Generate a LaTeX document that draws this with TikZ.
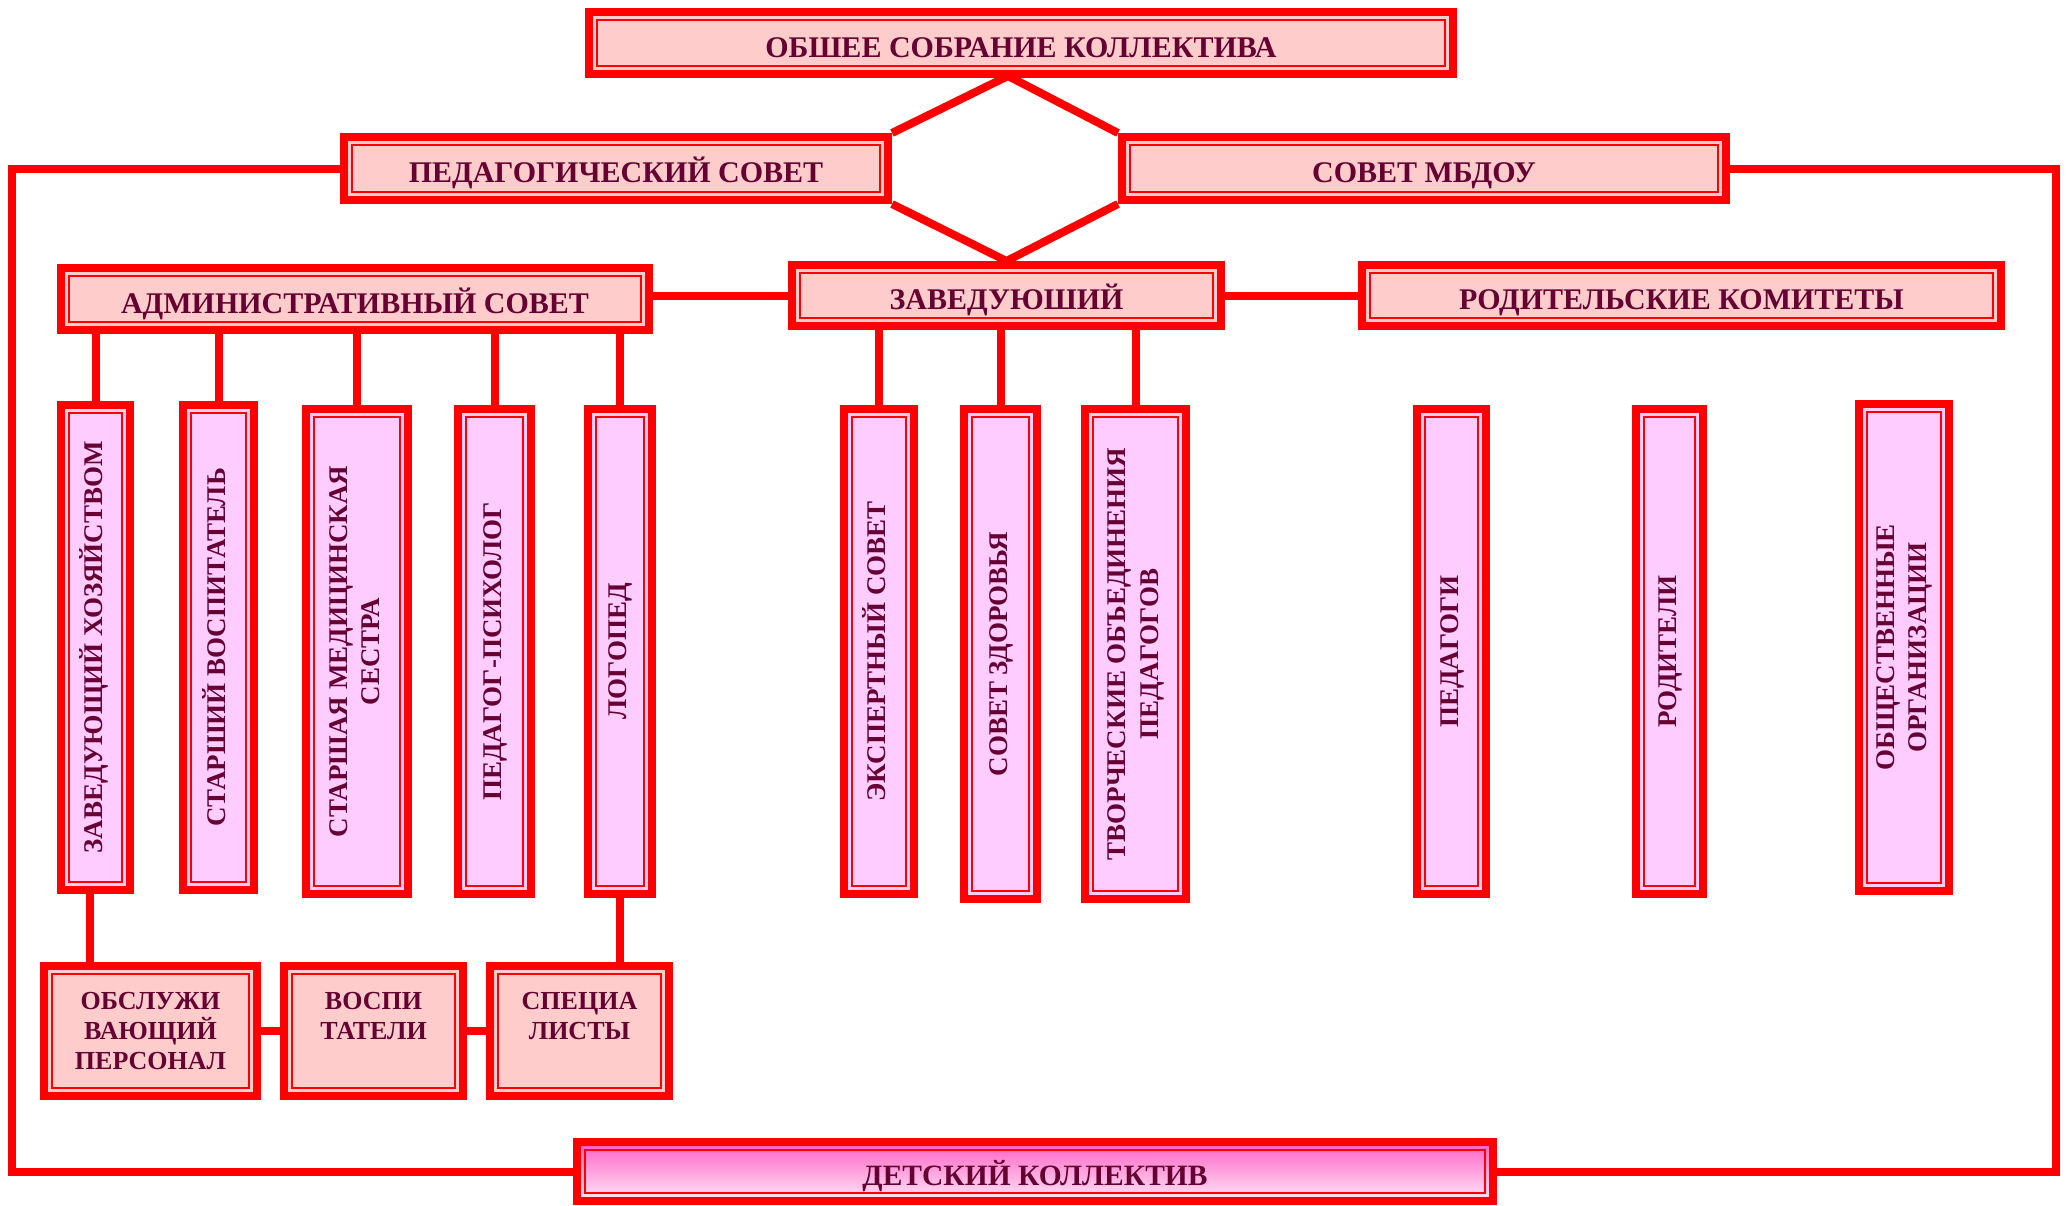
\documentclass[tikz,border=0pt]{standalone}
\usepackage{fontspec}
\setmainfont{Liberation Serif}
\usepackage{graphicx}
\definecolor{fillH}{HTML}{FFCCCC}
\definecolor{fillV}{HTML}{FFCCFF}
\definecolor{txt}{HTML}{660033}
\definecolor{detTop}{HTML}{FF5FC4}
\definecolor{detBot}{HTML}{FFE8F8}
\tikzset{
  box/.style={draw=red, line width=8pt, inner sep=0pt, text=txt, align=center,
    path picture={\draw[red,line width=2.5pt]
      ([shift={(8pt,8pt)}]path picture bounding box.south west) rectangle
      ([shift={(-8pt,-8pt)}]path picture bounding box.north east);}},
  hbox/.style={box, fill=fillH, font=\bfseries\fontsize{30}{34}\selectfont, text height=30pt, text depth=2pt},
  vbox/.style={box, fill=fillV, font=\bfseries\fontsize{27}{31}\selectfont},
  sbox/.style={box, fill=fillH, font=\bfseries\fontsize{26}{30}\selectfont},
  dbox/.style={box, top color=detTop, bottom color=detBot, font=\bfseries\fontsize{29.5}{34}\selectfont, text height=29pt, text depth=2pt},
  conn/.style={draw=red, line width=8pt}
}
\newcommand{\bx}[7]{\node[#6,minimum width={#4-#2-8},minimum height={#5-#3-8}] (#1) at ({(#2+#4)/2},{(#3+#5)/2}) {#7};}
\newcommand{\vt}[1]{\rotatebox{90}{\renewcommand\arraystretch{1.05}\begin{tabular}{@{}c@{}}#1\end{tabular}}}
\begin{document}
\begin{tikzpicture}[x=1pt,y=-1pt]
\useasboundingbox (0,0) rectangle (2066,1205);
% top levels
\bx{top}{585}{8}{1457}{78}{hbox}{ОБШЕЕ СОБРАНИЕ КОЛЛЕКТИВА}
\bx{ped}{340}{133}{892}{204}{hbox}{ПЕДАГОГИЧЕСКИЙ СОВЕТ}
\bx{mb}{1118}{133}{1730}{204}{hbox}{СОВЕТ МБДОУ}
\bx{adm}{57}{264}{653}{334}{hbox}{АДМИНИСТРАТИВНЫЙ СОВЕТ}
\bx{zav}{788}{261}{1225}{330}{hbox}{ЗАВЕДУЮШИЙ}
\bx{rod}{1358}{261}{2005}{330}{hbox}{РОДИТЕЛЬСКИЕ КОМИТЕТЫ}
% vertical boxes
\bx{v1}{57}{401}{134}{894}{vbox}{\vt{ЗАВЕДУЮЩИЙ ХОЗЯЙСТВОМ}}
\bx{v2}{179}{401}{258}{894}{vbox}{\vt{СТАРШИЙ ВОСПИТАТЕЛЬ}}
\bx{v3}{302}{405}{412}{898}{vbox}{\vt{СТАРШАЯ МЕДИЦИНСКАЯ\\СЕСТРА}}
\bx{v4}{454}{405}{535}{898}{vbox}{\vt{ПЕДАГОГ-ПСИХОЛОГ}}
\bx{v5}{584}{405}{656}{898}{vbox}{\vt{ЛОГОПЕД}}
\bx{v6}{840}{405}{918}{898}{vbox}{\vt{ЭКСПЕРТНЫЙ СОВЕТ}}
\bx{v7}{960}{405}{1041}{903}{vbox}{\vt{СОВЕТ ЗДОРОВЬЯ}}
\bx{v8}{1081}{405}{1190}{903}{vbox}{\vt{ТВОРЧЕСКИЕ ОБЪЕДИНЕНИЯ\\ПЕДАГОГОВ}}
\bx{v9}{1413}{405}{1490}{898}{vbox}{\vt{ПЕДАГОГИ}}
\bx{v10}{1632}{405}{1707}{898}{vbox}{\vt{РОДИТЕЛИ}}
\bx{v11}{1855}{400}{1953}{895}{vbox}{\vt{ОБЩЕСТВЕННЫЕ\\ОРГАНИЗАЦИИ}}
% bottom boxes
\bx{ob}{40}{962}{261}{1100}{sbox}{ОБСЛУЖИ\\ВАЮЩИЙ\\ПЕРСОНАЛ}
\bx{vo}{280}{962}{467}{1100}{sbox}{ВОСПИ\\ТАТЕЛИ\\\phantom{X}}
\bx{sp}{486}{962}{673}{1100}{sbox}{СПЕЦИА\\ЛИСТЫ\\\phantom{X}}
\bx{det}{573}{1138}{1497}{1205}{dbox}{ДЕТСКИЙ КОЛЛЕКТИВ}
% coordinates
\coordinate (hx) at (1008,76);
\coordinate (lc) at (12,600);
\coordinate (rc) at (2056,600);
% hexagon
\draw[conn, line join=miter] (ped.north east) -- (hx) -- (mb.north west);
\draw[conn, line join=miter] (ped.south east) -- (zav.north) -- (mb.south west);
% outer loop
\draw[conn] (ped.west) -| (lc) |- (det.west);
\draw[conn] (mb.east) -| (rc) |- (det.east);
% horizontal links
\draw[conn] (adm.east |- zav.west) -- (zav.west);
\draw[conn] (zav.east) -- (rod.west);
% admin drops
\foreach \v in {v1,v2,v3,v4,v5}{\draw[conn] (\v.north) -- (\v.north |- adm.south);}
\foreach \v in {v6,v7,v8}{\draw[conn] (\v.north) -- (\v.north |- zav.south);}
% bottom links
\draw[conn] ([xshift=-6pt]v1.south) -- ([xshift=-6pt]v1.south |- ob.north);
\draw[conn] (v5.south) -- (v5.south |- sp.north);
\draw[conn] (ob.east) -- (vo.west);
\draw[conn] (vo.east) -- (sp.west);
\end{tikzpicture}
\end{document}
